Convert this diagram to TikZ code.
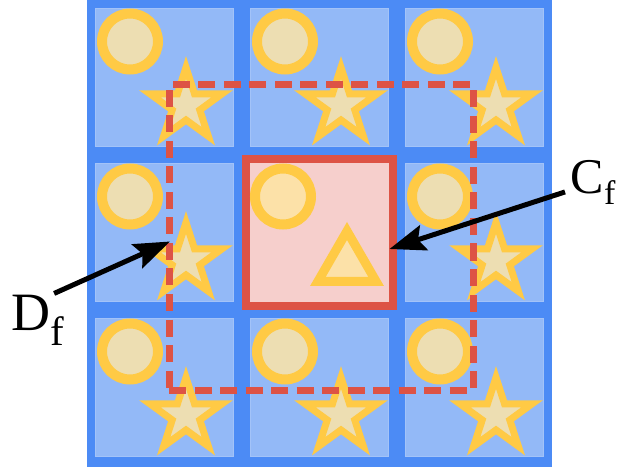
\documentclass[tikz,border=0pt]{standalone}
\usepackage{fontspec}
\setmainfont{Liberation Serif}
\usetikzlibrary{arrows.meta,shapes.geometric}
\definecolor{gridcol}{RGB}{76,139,245}
\definecolor{cellcol}{RGB}{147,185,247}
\definecolor{markcol}{RGB}{255,202,69}
\definecolor{beigecol}{RGB}{237,222,178}
\definecolor{paleycol}{RGB}{252,225,168}
\definecolor{pinkcol}{RGB}{246,207,204}
\definecolor{redcol}{RGB}{221,83,69}

\begin{document}
\begin{tikzpicture}[
  x=1pt, y=-1pt,
  cell/.style={rectangle, fill=cellcol, draw=cellcol!85!white, line width=1pt,
               minimum size=138pt, inner sep=0pt},
  focus/.style={rectangle, fill=pinkcol, draw=redcol, line width=8pt,
                minimum size=147pt, inner sep=0pt, outer sep=0pt},
  nbhd/.style={rectangle, draw=redcol, line width=7pt, dash pattern=on 17pt off 8.5pt,
               minimum width=304pt, minimum height=305pt, inner sep=0pt, outer sep=0pt},
  ring/.style={circle, draw=markcol, fill=#1, line width=10pt,
               minimum size=56pt, inner sep=0pt},
  ring/.default={beigecol},
  tri/.style={regular polygon, regular polygon sides=3, draw=markcol, fill=paleycol,
              line width=9pt, minimum size=67pt, inner sep=0pt},
  starmark/.pic={
    \draw[markcol, fill=beigecol, line width=7pt]
      (270:38) \foreach \k in {1,...,9} {-- ({270+36*\k}:{mod(\k,2)==0 ? 38 : 14.5})} -- cycle;
  },
  lbl/.style={inner sep=0pt, anchor=base west},
  arr/.style={-{Stealth[length=36pt, width=26pt, inset=6pt]}, line width=5pt, black},
]
  \useasboundingbox (0,0) rectangle (634,470);

  % Grid frame
  \fill[gridcol] (87,0) rectangle (552,467);

  % Cells: circle top left, star bottom right
  \foreach \i/\x in {1/164,2/319,3/474}
    \foreach \j/\y in {1/77.5,2/232.5,3/387.5} {
      \node[cell] (c\i\j) at (\x,\y) {};
      \ifnum\i\j=22\else
        \node[ring] (o\i\j) at ([shift={(-34,-36)}]c\i\j.center) {};
        \pic at ([shift={(22,28)}]c\i\j.center) {starmark};
      \fi
    }

  % Focus cell
  \node[focus] (ctr) at (c22) {};
  \node[ring=paleycol] (octr) at ([shift={(-36,-36)}]ctr.center) {};
  \node[tri] (tri) at ([shift={(28,32)}]ctr.center) {};

  % Neighbourhood
  \node[nbhd] (nb) at (321,237.5) {};

  % Labels
  \node[lbl, font=\fontsize{50}{56}\selectfont] (Cf) at (570.5,194)
    {C\raisebox{-11pt}{\fontsize{34}{38}\selectfont f}};
  \node[lbl, font=\fontsize{54}{60}\selectfont] (Df) at (11,330)
    {D\raisebox{-15pt}{\fontsize{41}{46}\selectfont f}};

  % Arrows
  \draw[arr] ([shift={(-5.5,9)}]Cf.west) -- ([shift={(-3,16.5)}]ctr.east);
  \draw[arr] ([shift={(16.6,-1)}]Df.north) -- ([shift={(1,4)}]nb.west);

\end{tikzpicture}
\end{document}
